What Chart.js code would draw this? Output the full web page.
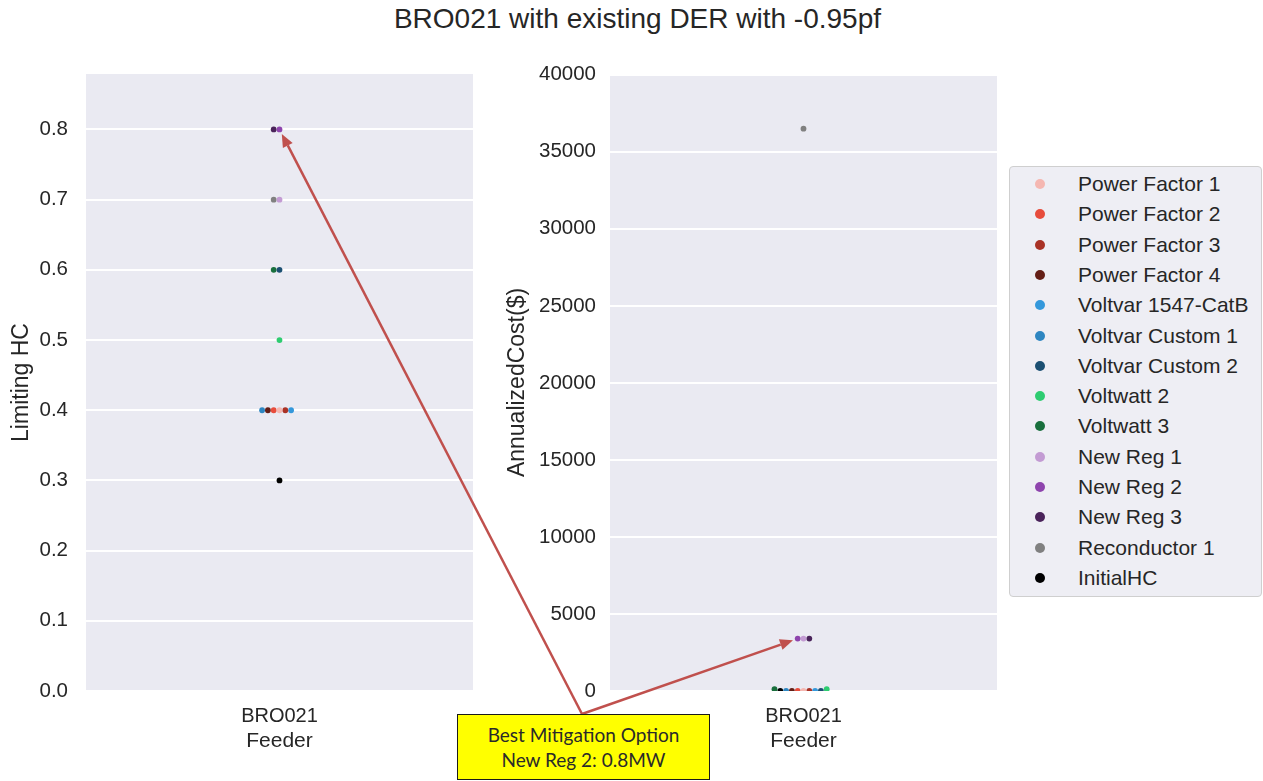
<!DOCTYPE html>
<html>
<head>
<meta charset="utf-8">
<title>BRO021 with existing DER with -0.95pf</title>
<script src="https://cdn.jsdelivr.net/npm/chart.js@4.4.1/dist/chart.umd.min.js"></script>
<style>
    body {
        margin: 0;
        width: 1263px;
        height: 781px;
        position: relative;
        overflow: hidden;
        background: #ffffff;
        font-family: "Liberation Sans", Arial, sans-serif;
        color: #262626;
    }
    canvas { position: absolute; top: 0; }
    #title {
        position: absolute;
        left: 0;
        top: 5px;
        width: 1275px;
        text-align: center;
        font-size: 28px;
        line-height: 28px;
    }
    #legend {
        position: absolute;
        left: 1009px;
        top: 166px;
        width: 253px;
        height: 431px;
        box-sizing: border-box;
        background: #eeeef4;
        border: 1px solid #cfcfcf;
        border-radius: 4px;
    }
    .legend-item {
        position: absolute;
        left: 0;
        width: 250px;
        height: 30px;
        font-size: 21px;
        line-height: 30px;
        white-space: nowrap;
    }
    .legend-dot {
        position: absolute;
        left: 25px;
        width: 10px;
        height: 10px;
        border-radius: 50%;
    }
    .legend-item span.label { position: absolute; left: 68px; top: 0; }
    #note {
        position: absolute;
        left: 457px;
        top: 714px;
        width: 253px;
        height: 66px;
        box-sizing: border-box;
        background: #ffff00;
        border: 1.5px solid #1a1a1a;
        font-family: Lato, "Open Sans", sans-serif;
        font-size: 19px;
        line-height: 25px;
        text-align: center;
        padding-top: 7px;
        color: #2a2a2a;
    }
    #overlay { pointer-events: none; }
</style>
</head>
<body>
<div id="title">BRO021 with existing DER with -0.95pf</div>
<canvas id="hcChart" width="480" height="781" style="left:0px"></canvas>
<canvas id="costChart" width="510" height="781" style="left:500px"></canvas>
<div id="legend"></div>
<canvas id="overlay" width="1263" height="781" style="left:0px"></canvas>
<div id="note">Best Mitigation Option<br>New Reg 2: 0.8MW</div>

<script>
// ---- data ----
const feeders = ['BRO021'];
const methods = [
    'Power Factor 1', 'Power Factor 2', 'Power Factor 3', 'Power Factor 4',
    'Voltvar 1547-CatB', 'Voltvar Custom 1', 'Voltvar Custom 2',
    'Voltwatt 2', 'Voltwatt 3', 'New Reg 1', 'New Reg 2', 'New Reg 3',
    'Reconductor 1', 'InitialHC'
];
const methodColors = [
    '#f5b7b1', '#e74c3c', '#a93226', '#641e16',
    '#3498db', '#2e86c1', '#1b4f72',
    '#2ecc71', '#196f3d', '#c39bd3', '#8e44ad', '#4a235a',
    '#808080', '#000000'
];
const limitingHC = [0.4, 0.4, 0.4, 0.4, 0.4, 0.4, 0.6, 0.5, 0.6, 0.7, 0.8, 0.8, 0.7, 0.3];
const annualizedCost = [0, 0, 0, 0, 0, 0, 0, 120, 120, 3400, 3400, 3400, 36500, 0];
const hcTicks = [0, 0.1, 0.2, 0.3, 0.4, 0.5, 0.6, 0.7, 0.8];
const costTicks = [0, 5000, 10000, 15000, 20000, 25000, 30000, 35000, 40000];
const bestOption = 'New Reg 2';

const PLOT_W = 387;   // px width of each axes box
const PLOT_H = 617;   // px height of each axes box
const DOT = 5.8;      // px dot diameter / swarm spacing
const FONT = "'Liberation Sans', Arial, sans-serif";
const INK = '#262626';

// simple beeswarm: same-height points are laid side by side, centre first, then left/right
function swarmOffsets(values, yMax) {
    const pxPerUnit = PLOT_H / yMax;
    const order = values.map((v, i) => i).sort((a, b) => values[a] - values[b]);
    const placed = [];
    const offsets = new Array(values.length);
    order.forEach(i => {
        const y = values[i] * pxPerUnit;
        for (let k = 0; ; k++) {
            const slot = k === 0 ? 0 : (k % 2 ? -Math.ceil(k / 2) : k / 2);
            const hit = placed.some(p => p.slot === slot && Math.abs(p.y - y) < DOT);
            if (!hit) {
                placed.push({ slot, y });
                offsets[i] = slot * DOT / PLOT_W;
                break;
            }
        }
    });
    return offsets;
}

const plotBackground = {
    id: 'plotBackground',
    beforeDraw(chart) {
        const { ctx, chartArea: a } = chart;
        ctx.save();
        ctx.fillStyle = '#eaeaf2';
        ctx.fillRect(a.left, a.top, a.right - a.left, a.bottom - a.top);
        ctx.restore();
    }
};

function buildChart(canvasId, values, yMax, yTicks, yTitle, tickFormat, opts) {
    const offsets = swarmOffsets(values, yMax);
    const datasets = methods.map((name, i) => ({
        label: name,
        data: [{ x: offsets[i], y: values[i] }],
        backgroundColor: methodColors[i],
        borderWidth: 0,
        pointRadius: DOT / 2,
        pointHoverRadius: DOT / 2
    }));

    return new Chart(document.getElementById(canvasId), {
        type: 'scatter',
        data: { datasets },
        plugins: [plotBackground],
        options: {
            responsive: false,
            animation: false,
            events: [],
            layout: { padding: { top: 74, right: opts.padRight, bottom: 0, left: 0 } },
            plugins: { legend: { display: false }, tooltip: { enabled: false } },
            scales: {
                x: {
                    type: 'linear',
                    min: -0.5,
                    max: 0.5,
                    afterBuildTicks: scale => { scale.ticks = [{ value: 0 }]; },
                    afterFit: scale => { scale.height = 90; },
                    grid: { display: false, drawTicks: false },
                    border: { display: false },
                    ticks: {
                        padding: 13,
                        color: INK,
                        font: { family: FONT, size: 20 },
                        callback: () => feeders[0]
                    },
                    title: {
                        display: true,
                        text: 'Feeder',
                        color: INK,
                        font: { family: FONT, size: 21 },
                        padding: { top: 0, bottom: 27 }
                    }
                },
                y: {
                    type: 'linear',
                    min: 0,
                    max: yMax,
                    afterBuildTicks: scale => { scale.ticks = yTicks.map(v => ({ value: v })); },
                    afterFit: scale => { scale.width = opts.axisWidth; },
                    grid: { color: '#ffffff', lineWidth: 2, drawTicks: false },
                    border: { display: false },
                    ticks: {
                        padding: opts.tickPad,
                        color: INK,
                        font: { family: FONT, size: 20.5 },
                        callback: tickFormat
                    },
                    title: {
                        display: true,
                        text: yTitle,
                        color: INK,
                        font: { family: FONT, size: opts.titleSize },
                        padding: { top: opts.titlePad, bottom: 0 }
                    }
                }
            }
        }
    });
}

function buildLegend() {
    const box = document.getElementById('legend');
    methods.forEach((name, i) => {
        const row = document.createElement('div');
        row.className = 'legend-item';
        row.style.top = (2 + i * 30.3) + 'px';
        const dot = document.createElement('span');
        dot.className = 'legend-dot';
        dot.style.top = '10px';
        dot.style.background = methodColors[i];
        const label = document.createElement('span');
        label.className = 'label';
        label.textContent = name;
        row.appendChild(dot);
        row.appendChild(label);
        box.appendChild(row);
    });
}

function drawArrow(ctx, x0, y0, x1, y1) {
    const ang = Math.atan2(y1 - y0, x1 - x0);
    const head = 13, half = 5.5;
    const bx = x1 - head * Math.cos(ang), by = y1 - head * Math.sin(ang);
    ctx.beginPath();
    ctx.moveTo(x0, y0);
    ctx.lineTo(bx, by);
    ctx.stroke();
    ctx.beginPath();
    ctx.moveTo(x1, y1);
    ctx.lineTo(bx + half * Math.sin(ang), by - half * Math.cos(ang));
    ctx.lineTo(bx - half * Math.sin(ang), by + half * Math.cos(ang));
    ctx.closePath();
    ctx.fill();
}

function drawCallout(hcChart, costChart) {
    const idx = methods.indexOf(bestOption);
    const start = { x: 582, y: 714 };
    const targets = [
        { chart: hcChart, dx: 0 },
        { chart: costChart, dx: 500 }
    ].map(t => {
        const pt = t.chart.getDatasetMeta(idx).data[0];
        const px = pt.x + t.dx, py = pt.y;
        const len = Math.hypot(start.x - px, start.y - py);
        // stop just short of the marker, along the arrow line
        return { x: px + (start.x - px) / len * 5, y: py + (start.y - py) / len * 5 };
    });

    const ctx = document.getElementById('overlay').getContext('2d');
    ctx.strokeStyle = '#c0504d';
    ctx.fillStyle = '#c0504d';
    ctx.lineWidth = 2.5;
    targets.forEach(t => drawArrow(ctx, start.x, start.y, t.x, t.y));
}

const hcChart = buildChart('hcChart', limitingHC, 0.879, hcTicks, 'Limiting HC',
    v => v.toFixed(1), { padRight: 7, axisWidth: 86, titlePad: 8, titleSize: 23, tickPad: 18 });
const costChart = buildChart('costChart', annualizedCost, 40050, costTicks, 'AnnualizedCost($)',
    v => String(v), { padRight: 13, axisWidth: 110, titlePad: 4, titleSize: 23, tickPad: 14 });
buildLegend();
drawCallout(hcChart, costChart);
</script>
</body>
</html>
